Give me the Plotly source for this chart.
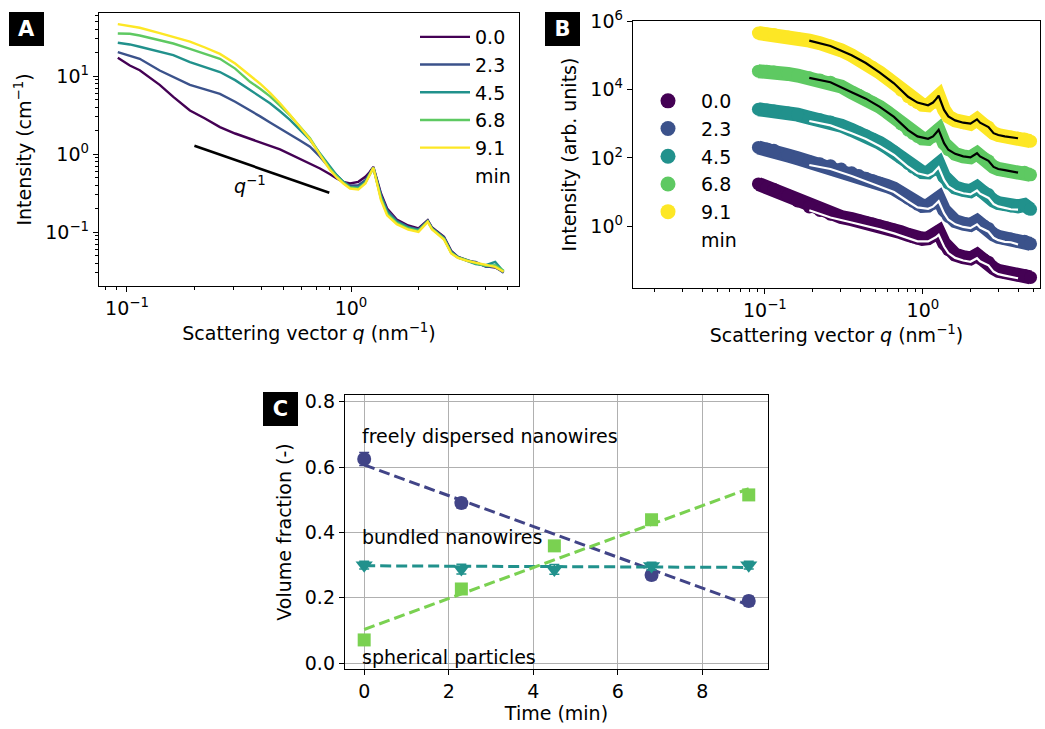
import math
import plotly.graph_objects as go

# ---------------- data: panel A / B (SAXS curves, intensity in cm^-1) ----------------
q = [0.091, 0.103, 0.114, 0.140, 0.161, 0.191, 0.223, 0.260, 0.304, 0.354, 0.393, 0.435,
     0.482, 0.534, 0.592, 0.656, 0.727, 0.806, 0.863, 0.924, 0.990, 1.078, 1.159, 1.207,
     1.258, 1.361, 1.449, 1.600, 1.800, 2.000, 2.200, 2.300, 2.455, 2.600, 2.800, 3.000,
     3.300, 3.600, 4.000, 4.400, 4.800]

I_0_0 = [17.2, 13.7, 11.9, 7.74, 5.43, 3.63, 2.87, 2.22, 1.84, 1.59, 1.44, 1.28, 1.15, 1.0,
         0.88, 0.759, 0.655, 0.554, 0.488, 0.442, 0.421, 0.442, 0.512, 0.582, 0.688, 0.313,
         0.201, 0.1453, 0.1217, 0.1114, 0.1425, 0.1148, 0.1, 0.0871, 0.0576, 0.0483, 0.0438,
         0.0404, 0.0366, 0.0352, 0.031]
I_2_3 = [20.3, 18.4, 16.7, 11.8, 9.8, 7.74, 6.75, 5.93, 4.69, 3.66, 3.05, 2.55, 2.15, 1.8,
         1.5, 1.25, 0.93, 0.655, 0.538, 0.442, 0.393, 0.40, 0.464, 0.554, 0.668, 0.298,
         0.1914, 0.1397, 0.117, 0.1082, 0.1397, 0.1125, 0.098, 0.0854, 0.0565, 0.0483, 0.0429,
         0.0417, 0.0359, 0.0359, 0.0301]
I_4_5 = [26.8, 25.5, 23.8, 20.7, 18.6, 15.1, 13.2, 11.3, 8.89, 6.61, 5.5, 4.5, 3.55, 2.75,
         2.05, 1.52, 1.02, 0.688, 0.538, 0.442, 0.381, 0.374, 0.442, 0.543, 0.668, 0.284,
         0.1823, 0.1357, 0.1148, 0.106, 0.1384, 0.1114, 0.0961, 0.0838, 0.0554, 0.0473, 0.0429,
         0.0389, 0.0377, 0.0417, 0.031]
I_6_8 = [35.2, 34.9, 33.2, 29.2, 26.2, 22.4, 19.5, 16.7, 12.5, 8.46, 6.9, 5.5, 4.2, 3.15,
         2.25, 1.6, 1.0, 0.655, 0.522, 0.429, 0.374, 0.363, 0.429, 0.533, 0.668, 0.270,
         0.1735, 0.1317, 0.1114, 0.104, 0.137, 0.1103, 0.0952, 0.0821, 0.0543, 0.0473, 0.0438,
         0.0397, 0.037, 0.0377, 0.0319]
I_9_1 = [46.4, 43.8, 41.7, 35.6, 31.9, 27.8, 23.3, 19.3, 14.5, 10.3, 8.0, 6.1, 4.5, 3.2,
         2.25, 1.55, 0.98, 0.624, 0.502, 0.421, 0.363, 0.352, 0.421, 0.522, 0.668, 0.257,
         0.165, 0.1266, 0.1082, 0.101, 0.1357, 0.1082, 0.0933, 0.0805, 0.0533, 0.0469, 0.0429,
         0.0408, 0.0377, 0.0359, 0.031]

# q^-1 guide line
slope_q = [0.2, 0.8]
slope_I = [1.28, 0.32]

# model fits (panel B)
fit_q = [0.191, 0.26, 0.354, 0.435, 0.534, 0.656, 0.806, 0.924, 1.078, 1.159, 1.207, 1.258,
         1.361, 1.449, 1.6, 1.8, 2.0, 2.2, 2.3, 2.455, 2.6, 2.8, 3.0, 3.3, 3.6, 4.0]
fit_0_0 = [2.9, 1.78, 1.27, 1.02, 0.80, 0.61, 0.44, 0.354, 0.354, 0.41, 0.466, 0.55, 0.25,
           0.161, 0.116, 0.097, 0.089, 0.114, 0.092, 0.080, 0.070, 0.046, 0.0386, 0.035,
           0.0323, 0.0293]
fit_2_3 = [6.2, 4.74, 2.93, 2.04, 1.44, 1.0, 0.524, 0.354, 0.32, 0.371, 0.443, 0.534, 0.238,
           0.153, 0.112, 0.094, 0.0866, 0.112, 0.09, 0.078, 0.0683, 0.0452, 0.0386, 0.0343,
           0.0334, 0.0287]
fit_4_5 = [12.1, 9.0, 5.29, 3.6, 2.2, 1.22, 0.55, 0.354, 0.30, 0.354, 0.434, 0.534, 0.227,
           0.146, 0.109, 0.092, 0.085, 0.111, 0.089, 0.077, 0.067, 0.0443, 0.0378, 0.0343,
           0.0311, 0.0302]
fit_6_8 = [22.4, 16.7, 8.46, 5.5, 3.15, 1.6, 0.655, 0.429, 0.363, 0.429, 0.533, 0.668, 0.27,
           0.1735, 0.1317, 0.1114, 0.104, 0.137, 0.1103, 0.0952, 0.0821, 0.0543, 0.0473,
           0.0438, 0.0397, 0.037]
fit_9_1 = [27.8, 19.3, 10.3, 6.1, 3.2, 1.55, 0.624, 0.421, 0.352, 0.421, 0.522, 0.668, 0.257,
           0.165, 0.1266, 0.1082, 0.101, 0.1357, 0.1082, 0.0933, 0.0805, 0.0533, 0.0469,
           0.0429, 0.0408, 0.0377]

time_labels = ["0.0", "2.3", "4.5", "6.8", "9.1"]
b_offsets = [1, 10, 100, 1000, 10000]

# ---------------- data: panel C ----------------
free_t = [0, 2.3, 6.8, 9.1]
free_v = [0.625, 0.49, 0.27, 0.19]
free_err = [0.02, 0.015, 0.015, 0.015]
bund_t = [0, 2.3, 4.5, 6.8, 9.1]
bund_v = [0.30, 0.288, 0.287, 0.297, 0.30]
bund_err = [0.012, 0.015, 0.015, 0.012, 0.012]
sph_t = [0, 2.3, 4.5, 6.8, 9.1]
sph_v = [0.071, 0.227, 0.359, 0.439, 0.515]
sph_err = [0.01, 0.01, 0.01, 0.01, 0.01]
fit_t = [0, 9.1]
free_fit = [0.607, 0.178]
bund_fit = [0.298, 0.293]
sph_fit = [0.103, 0.534]

# ---------------- style ----------------
colors = ["#440154", "#3b528b", "#21918c", "#5ec962", "#fde725"]
fit_colors = ["white", "white", "white", "black", "black"]
FONT = "DejaVu Sans"
FS = 19
c_blue, c_teal, c_green = "#414487", "#21918c", "#7ad151"

curves = [I_0_0, I_2_3, I_4_5, I_6_8, I_9_1]
fits = [fit_0_0, fit_2_3, fit_4_5, fit_6_8, fit_9_1]

fig = go.Figure()

# Panel A
for lab, I, c in zip(time_labels, curves, colors):
    fig.add_trace(go.Scatter(x=q, y=I, mode="lines", line=dict(color=c, width=2.4),
                             name=lab, legend="legend", legendgroup="a" + lab,
                             xaxis="x", yaxis="y"))
fig.add_trace(go.Scatter(x=[None], y=[None], mode="lines", line=dict(color="rgba(0,0,0,0)"),
                         name="min", legend="legend", legendgroup="amin", xaxis="x", yaxis="y"))
fig.add_trace(go.Scatter(x=slope_q, y=slope_I, mode="lines", line=dict(color="black", width=2.6),
                         showlegend=False, xaxis="x", yaxis="y"))

# Panel B
for lab, I, c, off in zip(time_labels, curves, colors, b_offsets):
    fig.add_trace(go.Scatter(x=q, y=[v * off for v in I], mode="lines+markers",
                             line=dict(color=c, width=14), marker=dict(color=c, size=13),
                             showlegend=False, xaxis="x2", yaxis="y2"))
for f, fc, off in zip(fits, fit_colors, b_offsets):
    fig.add_trace(go.Scatter(x=fit_q, y=[v * off for v in f], mode="lines",
                             line=dict(color=fc, width=2.2), showlegend=False,
                             xaxis="x2", yaxis="y2"))
for lab, c in zip(time_labels, colors):
    fig.add_trace(go.Scatter(x=[None], y=[None], mode="markers", marker=dict(color=c, size=15),
                             name=lab, legend="legend2", legendgroup="b" + lab,
                             xaxis="x2", yaxis="y2"))
fig.add_trace(go.Scatter(x=[None], y=[None], mode="markers", marker=dict(color="rgba(0,0,0,0)", size=1),
                         name="min", legend="legend2", legendgroup="bmin", xaxis="x2", yaxis="y2"))

# Panel C
dash = "11px,5px"
fig.add_trace(go.Scatter(x=fit_t, y=free_fit, mode="lines", line=dict(color=c_blue, width=3, dash=dash),
                         showlegend=False, xaxis="x3", yaxis="y3"))
fig.add_trace(go.Scatter(x=fit_t, y=bund_fit, mode="lines", line=dict(color=c_teal, width=3, dash=dash),
                         showlegend=False, xaxis="x3", yaxis="y3"))
fig.add_trace(go.Scatter(x=fit_t, y=sph_fit, mode="lines", line=dict(color=c_green, width=3, dash=dash),
                         showlegend=False, xaxis="x3", yaxis="y3"))
fig.add_trace(go.Scatter(x=free_t, y=free_v, mode="markers",
                         marker=dict(color=c_blue, size=14, symbol="circle"),
                         error_y=dict(type="data", array=free_err, color=c_blue, thickness=1.5, width=5),
                         showlegend=False, xaxis="x3", yaxis="y3"))
fig.add_trace(go.Scatter(x=bund_t, y=bund_v, mode="markers",
                         marker=dict(color=c_teal, size=15, symbol="triangle-down"),
                         error_y=dict(type="data", array=bund_err, color=c_teal, thickness=1.5, width=5),
                         showlegend=False, xaxis="x3", yaxis="y3"))
fig.add_trace(go.Scatter(x=sph_t, y=sph_v, mode="markers",
                         marker=dict(color=c_green, size=13, symbol="square"),
                         error_y=dict(type="data", array=sph_err, color=c_green, thickness=1.5, width=5),
                         showlegend=False, xaxis="x3", yaxis="y3"))


def minor_vals(lo_exp, hi_exp, lo, hi):
    vals = []
    for e in range(lo_exp, hi_exp + 1):
        for m in range(2, 10):
            v = m * 10 ** e
            if lo <= v <= hi:
                vals.append(v)
    return vals


axis_common = dict(showline=True, linecolor="black", linewidth=1.3, mirror=True,
                   ticks="outside", ticklen=5, tickwidth=1.2, tickcolor="black",
                   showgrid=False, zeroline=False, automargin=False,
                   tickfont=dict(family=FONT, size=FS, color="black"))

sup = lambda e: "10<sup>" + (str(e) if e >= 0 else "\u2212" + str(-e)) + "</sup>"

fig.update_layout(
    width=1045, height=729, margin=dict(l=0, r=0, t=0, b=0, autoexpand=False),
    paper_bgcolor="white", plot_bgcolor="white",
    font=dict(family=FONT, size=FS, color="black"),
    xaxis=dict(axis_common, type="log", range=[-1.125, 0.75], domain=[0.0947, 0.4967], anchor="y",
               tickmode="array", tickvals=[0.1, 1], ticktext=[sup(-1), sup(0)],
               minor=dict(tickmode="array", tickvals=minor_vals(-2, 0, 0.075, 5.6), ticks="outside",
                          ticklen=3, tickcolor="black", showgrid=False),
               title=dict(text="Scattering vector <i>q</i> (nm<sup>\u22121</sup>)",
                          font=dict(family=FONT, size=FS), standoff=8)),
    yaxis=dict(axis_common, type="log", range=[-1.69, 1.81], domain=[0.6077, 0.9822], anchor="x",
               tickmode="array", tickvals=[0.1, 1, 10], ticktext=[sup(-1), sup(0), sup(1)],
               minor=dict(tickmode="array", tickvals=minor_vals(-2, 1, 0.02, 64), ticks="outside",
                          ticklen=3, tickcolor="black", showgrid=False),
               title=dict(text="Intensity (cm<sup>\u22121</sup>)", font=dict(family=FONT, size=FS),
                          standoff=8)),
    xaxis2=dict(axis_common, type="log", range=[-1.835, 0.741], domain=[0.6057, 0.9952], anchor="y2",
                tickmode="array", tickvals=[0.1, 1], ticktext=[sup(-1), sup(0)],
                minor=dict(tickmode="array", tickvals=minor_vals(-2, 0, 0.0146, 5.5), ticks="outside",
                           ticklen=3, tickcolor="black", showgrid=False),
                title=dict(text="Scattering vector <i>q</i> (nm<sup>\u22121</sup>)",
                           font=dict(family=FONT, size=FS), standoff=8)),
    yaxis2=dict(axis_common, type="log", range=[-1.82, 6.02], domain=[0.6049, 0.9712], anchor="x2",
                tickmode="array", tickvals=[1, 100, 1e4, 1e6], ticktext=[sup(0), sup(2), sup(4), sup(6)],
                title=dict(text="Intensity (arb. units)", font=dict(family=FONT, size=FS), standoff=8)),
    xaxis3=dict(axis_common, range=[-0.455, 9.555], domain=[0.3301, 0.7349], anchor="y3",
                tickmode="array", tickvals=[0, 2, 4, 6, 8], ticktext=["0", "2", "4", "6", "8"],
                showgrid=True, gridcolor="#b0b0b0", gridwidth=1.2,
                title=dict(text="Time (min)", font=dict(family=FONT, size=FS), standoff=4)),
    yaxis3=dict(axis_common, range=[-0.018, 0.821], domain=[0.0823, 0.4582], anchor="x3",
                tickmode="array", tickvals=[0, 0.2, 0.4, 0.6, 0.8],
                ticktext=["0.0", "0.2", "0.4", "0.6", "0.8"],
                showgrid=True, gridcolor="#b0b0b0", gridwidth=1.2,
                title=dict(text="Volume fraction (-)", font=dict(family=FONT, size=FS), standoff=8)),
    legend=dict(x=415 / 1045, y=1 - 18 / 729, xanchor="left", yanchor="top",
                bgcolor="rgba(0,0,0,0)", borderwidth=0, itemwidth=50, tracegroupgap=0,
                font=dict(family=FONT, size=FS), traceorder="grouped"),
    legend2=dict(x=635 / 1045, y=1 - 82 / 729, xanchor="left", yanchor="top",
                 bgcolor="rgba(0,0,0,0)", borderwidth=0, itemwidth=56, tracegroupgap=0,
                 font=dict(family=FONT, size=FS), traceorder="grouped"),
)

annotations = [
    dict(x=math.log10(0.354), y=math.log10(0.4), xref="x", yref="y",
         text="<i>q</i><sup>\u22121</sup>", showarrow=False, font=dict(family=FONT, size=FS)),
    dict(x=-0.1, y=0.694, xref="x3", yref="y3", xanchor="left", text="freely dispersed nanowires",
         showarrow=False, font=dict(family=FONT, size=FS)),
    dict(x=-0.1, y=0.386, xref="x3", yref="y3", xanchor="left", text="bundled nanowires",
         showarrow=False, font=dict(family=FONT, size=FS)),
    dict(x=-0.1, y=0.02, xref="x3", yref="y3", xanchor="left", text="spherical particles",
         showarrow=False, font=dict(family=FONT, size=FS)),
]
for letter, px, py in [("A", 9, 12), ("B", 545, 12), ("C", 263, 392)]:
    annotations.append(dict(x=px / 1045, y=1 - py / 729, xref="paper", yref="paper",
                            xanchor="left", yanchor="top", text="<b>" + letter + "</b>",
                            showarrow=False, bgcolor="black", bordercolor="black", borderpad=2,
                            width=29, height=28, font=dict(family=FONT, size=21, color="white")))
fig.update_layout(annotations=annotations)

fig.write_html("out.html")
